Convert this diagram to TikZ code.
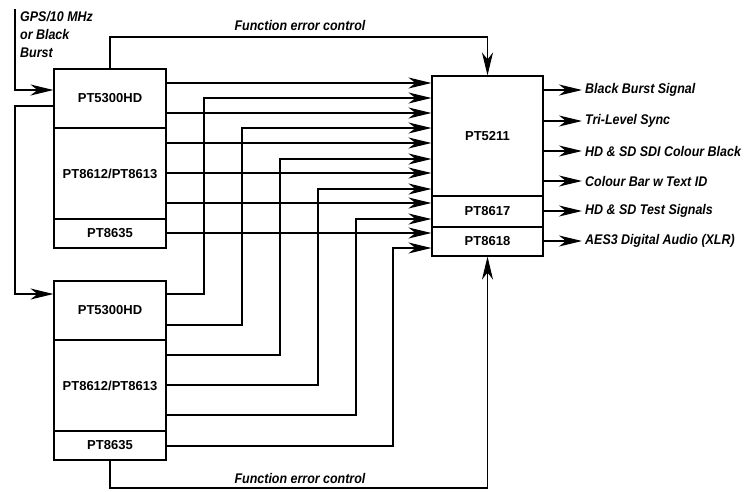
\documentclass[tikz,border=0pt]{standalone}
\usepackage{fontspec}
\setmainfont{Liberation Sans}
\newfontfamily\narrowfont{Liberation Sans}[FakeStretch=0.89]
\usetikzlibrary{positioning,arrows.meta,calc}

\begin{document}
\begin{tikzpicture}[x=1pt, y=-1pt,
    unit/.style={rectangle, draw, line width=1.1pt, minimum width=112pt, inner sep=0pt, font=\fontsize{13}{15}\selectfont\bfseries},
    sig/.style={-{Stealth[length=23pt, width=11pt, inset=7pt]}, line width=1.1pt},
    lbl/.style={font=\narrowfont\fontsize{14}{18}\selectfont\bfseries\itshape, inner sep=3pt}
]
    \useasboundingbox (0,0) rectangle (751,491);

    % First generator
    \node [unit, minimum height=59pt] (sync1) at (110,98.5) {PT5300HD};
    \node [unit, minimum height=91pt] (tsg1) at (110,173.5) {PT8612/PT8613};
    \node [unit, minimum height=29pt] (aud1) at (110,233.5) {PT8635};

    % Second generator
    \node [unit, minimum height=59pt] (sync2) at (110,310.5) {PT5300HD};
    \node [unit, minimum height=91pt] (tsg2) at (110,385.5) {PT8612/PT8613};
    \node [unit, minimum height=29pt] (aud2) at (110,445.5) {PT8635};

    % Main unit
    \node [unit, minimum width=111pt, minimum height=120pt] (main) at (487.5,136) {PT5211};
    \node [unit, minimum width=111pt, minimum height=31pt] (tsig) at (487.5,211.5) {PT8617};
    \node [unit, minimum width=111pt, minimum height=29pt] (aes) at (487.5,241.5) {PT8618};

    % Reference input
    \coordinate (gps) at (15,9);
    \node [lbl, inner sep=0pt, align=left, anchor=north west] (ref) at (20,11) {GPS/10 MHz\\or Black\\Burst};
    \draw [sig] (gps) |- (sync1.west |- 0,90);
    \draw [sig] (sync1.west |- 0,106) -- (15,106) |- (sync2.west |- 0,294);

    % Outputs of the first generator
    \foreach \src/\y in {sync1/83, sync1/113, tsg1/143, tsg1/173, tsg1/203, aud1/233}
        \draw [sig] (\src.east |- 0,\y) -- (main.west |- 0,\y);

    % Outputs of the second generator
    \foreach \src/\ys/\xv/\yt in {sync2/294/204/98, sync2/325/242/128, tsg2/355/280/159, tsg2/385/318/189, tsg2/415/356/219, aud2/446/393/248}
        \draw [sig] (\src.east |- 0,\ys) -| (\xv,\yt) -- (main.west |- 0,\yt);

    % Function error control
    \node [lbl] (fec1) at (300,25) {Function error control};
    \node [lbl] (fec2) at (300,478) {Function error control};
    \draw [sig] (sync1.north) |- (main.north |- 0,37) -- (main.north);
    \draw [sig] (aud2.south) |- (aes.south |- 0,488) -- (aes.south);

    % Signal outputs
    \node [lbl, anchor=west] (out1) at (582,90) {Black Burst Signal};
    \node [lbl, anchor=west] (out2) at (582,121) {Tri-Level Sync};
    \node [lbl, anchor=west] (out3) at (582,151) {HD \& SD SDI Colour Black};
    \node [lbl, anchor=west] (out4) at (582,181) {Colour Bar w Text ID};
    \node [lbl, anchor=west] (out5) at (582,211) {HD \& SD Test Signals};
    \node [lbl, anchor=west] (out6) at (582,241) {AES3 Digital Audio (XLR)};
    \foreach \o in {out1, out2, out3, out4}
        \draw [sig] (main.east |- \o.west) -- (\o.west);
    \draw [sig] (tsig.east |- out5.west) -- (out5.west);
    \draw [sig] (aes.east |- out6.west) -- (out6.west);
\end{tikzpicture}
\end{document}
